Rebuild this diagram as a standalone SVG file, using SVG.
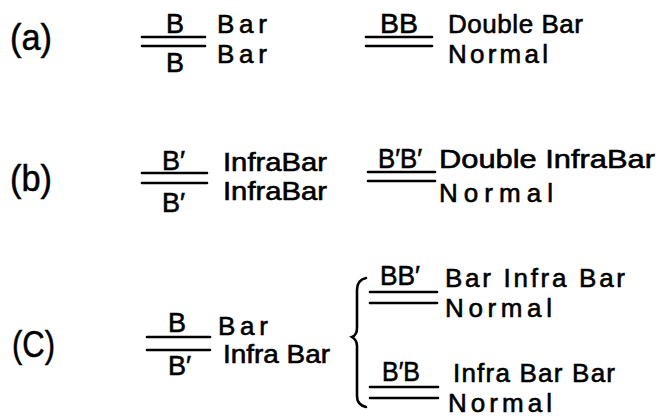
<svg xmlns="http://www.w3.org/2000/svg" width="659" height="418" viewBox="0 0 659 418">
<style>
.t{font-family:"Liberation Sans","DejaVu Sans",sans-serif;font-size:26px;fill:#000;stroke:#000;stroke-width:0.6}
.f{font-family:"Liberation Sans","DejaVu Sans",sans-serif;font-size:27px;fill:#000;stroke:#000;stroke-width:0.6}
.lab{font-family:"Liberation Sans","DejaVu Sans",sans-serif;font-size:37px;fill:#000;stroke:#000;stroke-width:0.5}
.ln{stroke:#000;stroke-width:2.6;fill:none;stroke-linecap:round}
</style>
<rect width="659" height="418" fill="#fff"/>
<g id="row-a">
<text class="lab" x="10" y="50" textLength="42" lengthAdjust="spacingAndGlyphs">(a)</text>
<g id="a-left">
<text class="f" x="166" y="33">B</text>
<line class="ln" x1="142" y1="37" x2="205" y2="37"/>
<line class="ln" x1="142" y1="46" x2="205" y2="46"/>
<text class="f" x="166" y="72">B</text>
<text class="t" x="217" y="33" textLength="50" lengthAdjust="spacing">Bar</text>
<text class="t" x="217" y="63" textLength="50" lengthAdjust="spacing">Bar</text>
</g>
<g id="a-right">
<text class="f" x="380" y="33" textLength="38" lengthAdjust="spacingAndGlyphs">BB</text>
<line class="ln" x1="366" y1="37" x2="432" y2="37"/>
<line class="ln" x1="366" y1="46" x2="432" y2="46"/>
<text class="t" x="448" y="33" textLength="135" lengthAdjust="spacing">Double Bar</text>
<text class="t" x="448" y="63" textLength="100" lengthAdjust="spacing">Normal</text>
</g>
</g>
<g id="row-b">
<text class="lab" x="10" y="191" textLength="42" lengthAdjust="spacingAndGlyphs">(b)</text>
<g id="b-left">
<text class="f" x="162" y="170">B′</text>
<line class="ln" x1="142" y1="173" x2="207" y2="173"/>
<line class="ln" x1="142" y1="183" x2="207" y2="183"/>
<text class="f" x="162" y="212">B′</text>
<text class="t" x="223" y="171" textLength="104" lengthAdjust="spacingAndGlyphs">InfraBar</text>
<text class="t" x="223" y="200" textLength="104" lengthAdjust="spacingAndGlyphs">InfraBar</text>
</g>
<g id="b-right">
<text class="f" x="378" y="168" textLength="44" lengthAdjust="spacingAndGlyphs">B′B′</text>
<line class="ln" x1="368" y1="172" x2="435" y2="172"/>
<line class="ln" x1="368" y1="181" x2="435" y2="181"/>
<text class="t" x="439" y="168" textLength="216" lengthAdjust="spacingAndGlyphs">Double InfraBar</text>
<text class="t" x="439" y="202" textLength="114" lengthAdjust="spacing">Normal</text>
</g>
</g>
<g id="row-c">
<text class="lab" x="12" y="357" textLength="43" lengthAdjust="spacingAndGlyphs">(C)</text>
<g id="c-left">
<text class="f" x="168" y="332">B</text>
<line class="ln" x1="147" y1="337" x2="210" y2="337"/>
<line class="ln" x1="147" y1="350" x2="210" y2="350"/>
<text class="f" x="168" y="375">B′</text>
<text class="t" x="218" y="335" textLength="50" lengthAdjust="spacing">Bar</text>
<text class="t" x="223" y="363" textLength="107" lengthAdjust="spacingAndGlyphs">Infra Bar</text>
</g>
<path id="brace" class="ln" d="M366,278 Q357,280 357,290 L357,328 Q357,335 352,337 Q357,340 357,346 L357,396 Q357,405 366,407"/>
<g id="c-top">
<text class="f" x="380" y="285" textLength="40" lengthAdjust="spacingAndGlyphs">BB′</text>
<line class="ln" x1="370" y1="292" x2="437" y2="292"/>
<line class="ln" x1="370" y1="303" x2="437" y2="303"/>
<text class="t" x="445" y="287" textLength="180" lengthAdjust="spacing">Bar Infra Bar</text>
<text class="t" x="445" y="317" textLength="107" lengthAdjust="spacing">Normal</text>
</g>
<g id="c-bottom">
<text class="f" x="382" y="381" textLength="38" lengthAdjust="spacingAndGlyphs">B′B</text>
<line class="ln" x1="370" y1="387" x2="438" y2="387"/>
<line class="ln" x1="370" y1="398" x2="438" y2="398"/>
<text class="t" x="453" y="382" textLength="162" lengthAdjust="spacing">Infra Bar Bar</text>
<text class="t" x="448" y="412" textLength="104" lengthAdjust="spacing">Normal</text>
</g>
</g>
</svg>
